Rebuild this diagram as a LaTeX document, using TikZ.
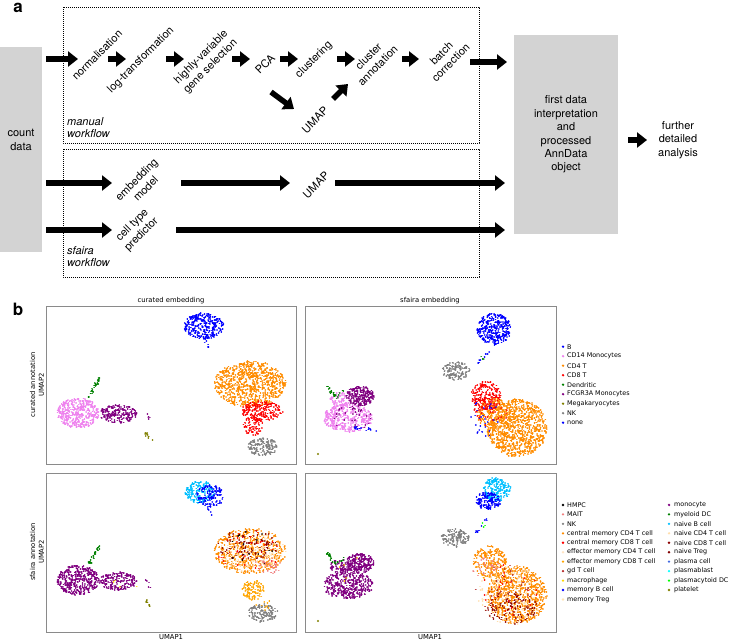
\documentclass[tikz,border=0pt]{standalone}
\usepackage{fontspec}
\setmainfont{TeX Gyre Heros}
\newfontfamily\plotfont{DejaVu Sans}
\usepackage{tikz}
\usetikzlibrary{arrows.meta,positioning}

\definecolor{boxgrey}{HTML}{D3D3D3}
\definecolor{framegrey}{HTML}{8A8A8A}
% curated annotation
\definecolor{cB}{HTML}{0000FF}
\definecolor{cMonoA}{HTML}{EE82EE}
\definecolor{cCDf}{HTML}{FF8C00}
\definecolor{cCDe}{HTML}{FF0000}
\definecolor{cDend}{HTML}{008000}
\definecolor{cMonoB}{HTML}{800080}
\definecolor{cMega}{HTML}{808000}
\definecolor{cNK}{HTML}{808080}
\definecolor{cNone}{HTML}{0000FF}
% sfaira annotation
\definecolor{sHMPC}{HTML}{000000}
\definecolor{sMAIT}{HTML}{F08080}
\definecolor{sNK}{HTML}{808080}
\definecolor{sCmFour}{HTML}{FF8C00}
\definecolor{sCmEight}{HTML}{FF0000}
\definecolor{sEmFour}{HTML}{FFE4C4}
\definecolor{sEmEight}{HTML}{FFA500}
\definecolor{sGd}{HTML}{B22222}
\definecolor{sMac}{HTML}{FFD700}
\definecolor{sMemB}{HTML}{0000FF}
\definecolor{sMemT}{HTML}{FFE4B5}
\definecolor{sMono}{HTML}{800080}
\definecolor{sMyDC}{HTML}{008000}
\definecolor{sNaiB}{HTML}{00BFFF}
\definecolor{sNaiFour}{HTML}{FFDEAD}
\definecolor{sNaiEight}{HTML}{8B0000}
\definecolor{sNaiT}{HTML}{800000}
\definecolor{sPlC}{HTML}{4169E1}
\definecolor{sPlB}{HTML}{00FFFF}
\definecolor{sPDC}{HTML}{00FF00}
\definecolor{sPlat}{HTML}{808000}

% point clouds of the umap panels (one path per cloud)
\newcommand{\cloud}[6]{% centre x, centre y, radius x, radius y, points, colour
  \draw[umapdot,#6] \foreach \i [evaluate=\i as \cldr using sqrt(rnd),
      evaluate=\i as \clda using 360*rnd] in {1,...,#5}
    {({#1+#3*\cldr*cos(\clda)},{#2+#4*\cldr*sin(\clda)}) -- ++(0.05,0)};}
\newcommand{\streak}[6]{% from x, from y, to x, to y, points, colour
  \draw[umapdot,#6] \foreach \i [evaluate=\i as \cldt using rnd] in {1,...,#5}
    {({#1+(#3-#1)*\cldt+3*(rnd-0.5)},{#2+(#4-#2)*\cldt+3*(rnd-0.5)}) -- ++(0.05,0)};}

\begin{document}
\begin{tikzpicture}[x=1pt,y=-1pt,
    bigarrow/.style={line width=5.5pt,-{Triangle[length=10pt,width=15pt]}},
    rotlabel/.style={rotate=45,align=center,inner sep=0pt,font=\fontsize{11}{13}\selectfont},
    plain/.style={align=center,inner sep=0pt,font=\fontsize{11}{13.4}\selectfont},
    wfbox/.style={dash pattern=on 0.9pt off 1.1pt,line width=0.9pt},
    greybox/.style={fill=boxgrey,draw=none},
    frame/.style={draw=framegrey,line width=0.9pt},
    umapdot/.style={line width=1.7pt,line cap=round},
    plottext/.style={inner sep=0pt,font=\plotfont\fontsize{6.8}{8}\selectfont},
    legtext/.style={inner sep=0pt,anchor=west,font=\plotfont\fontsize{6.4}{7.5}\selectfont}]
    \useasboundingbox (0,0) rectangle (729,640);
    \pgfmathsetseed{4711}

    % ---------------- a: workflows
    \node[font=\bfseries\fontsize{17}{17}\selectfont,inner sep=0pt] (lbla) at (18,8) {a};
    \draw[wfbox] (63,7) rectangle (479,143);
    \draw[wfbox] (63,149) rectangle (479,277);

    \node[greybox,minimum width=42,minimum height=205,inner sep=0pt] (cnt) at (21,149.5) {};
    \node[plain] (cntlbl) at (21,140) {count\\data};
    \node[greybox,plain,minimum width=104,minimum height=199] (ann) at (566,134.5)
        {first data\\interpretation\\and\\processed\\AnnData\\object};
    \node[plain] (fur) at (678,140) {further\\detailed\\analysis};

    % manual workflow
    \node[rotlabel] (norm) at (97,55) {normalisation};
    \node[rotlabel] (logt) at (141,60) {log-transformation};
    \node[rotlabel] (hvg) at (206,62) {highly-variable\\gene selection};
    \node[rotlabel] (pca) at (265,64) {PCA};
    \node[rotlabel] (clus) at (314,60) {clustering};
    \node[rotlabel] (umapm) at (315,120) {UMAP};
    \node[rotlabel] (cann) at (373,61) {cluster\\annotation};
    \node[rotlabel] (batch) at (446,58) {batch\\correction};
    \node[plain,align=left,anchor=north west,font=\itshape\fontsize{11}{12.5}\selectfont] (manual) at (67,117) {manual\\workflow};

    \foreach \xa/\xb in {46/78,108/126,166/184,232/250,280/298,337/355,402/419}
        \draw[bigarrow] (\xa,59) -- (\xb,59);
    \draw[bigarrow] (470,62) -- (507,62);
    \draw[bigarrow] (271,92) -- (294,109);
    \draw[bigarrow] (333,99) -- (348,84);

    % sfaira workflow
    \node[rotlabel] (emb) at (141,184) {embedding\\model};
    \node[rotlabel] (umaps) at (316,185) {UMAP};
    \node[rotlabel] (pred) at (137,230) {cell type\\predictor};
    \node[plain,align=left,anchor=north west,font=\itshape\fontsize{11}{12.5}\selectfont] (sfaira) at (67,246) {sfaira\\workflow};

    \foreach \xa/\xb in {46/112,181/290,335/505}
        \draw[bigarrow] (\xa,183) -- (\xb,183);
    \foreach \xa/\xb in {46/112,176/505}
        \draw[bigarrow] (\xa,230) -- (\xb,230);
    \draw[bigarrow] ([xshift=10pt]ann.east |- fur.west) -- ([xshift=-11pt]fur.west);

    % ---------------- b: umap panels
    \node[font=\bfseries\fontsize{17}{17}\selectfont,inner sep=0pt] (lblb) at (18,309) {b};

    % curated embedding, curated annotation
    \cloud{204}{326}{20}{13}{290}{cB}
    \streak{204}{336}{208}{348}{6}{cB}
    \cloud{250}{384}{36}{23}{820}{cCDf}
    \cloud{262}{411}{21}{10}{210}{cCDe}
    \cloud{253}{426}{10}{10}{90}{cCDe}
    \cloud{263}{447}{15}{9}{160}{cNK}
    \cloud{78}{413}{21}{15}{420}{cMonoA}
    \cloud{118}{414}{19}{9}{200}{cMonoB}
    \streak{145}{413}{150}{420}{5}{cMonoB}
    \streak{89}{397}{100}{378}{28}{cDend}
    \streak{145}{433}{152}{441}{10}{cMega}

    % sfaira embedding, curated annotation
    \cloud{494}{329}{17}{16}{330}{cB}
    \streak{488}{352}{476}{366}{12}{cB}
    \streak{480}{356}{484}{359}{3}{cDend}
    \cloud{456}{371}{14}{9}{140}{cNK}
    \cloud{486}{396}{15}{15}{230}{cCDe}
    \cloud{517}{428}{30}{29}{950}{cCDf}
    \cloud{494}{414}{17}{16}{200}{cCDf}
    \cloud{490}{412}{18}{16}{50}{cCDe}
    \cloud{485}{418}{14}{20}{30}{cB}
    \cloud{348}{418}{25}{14}{380}{cMonoA}
    \cloud{340}{400}{10}{8}{80}{cMonoA}
    \cloud{360}{396}{14}{10}{240}{cMonoB}
    \cloud{352}{418}{20}{12}{35}{cMonoB}
    \streak{327}{385}{336}{398}{22}{cDend}
    \streak{336}{397}{344}{391}{6}{cDend}
    \streak{355}{428}{378}{430}{14}{cB}
    \fill[cMega] (318,454) circle[radius=1.1pt];

    % curated embedding, sfaira annotation
    \cloud{200}{492}{15}{11}{190}{sNaiB}
    \cloud{210}{496}{14}{11}{140}{sMemB}
    \streak{204}{503}{211}{515}{6}{sMemB}
    \cloud{250}{551}{36}{23}{570}{sCmFour}
    \cloud{252}{552}{34}{20}{150}{sNaiFour}
    \cloud{248}{545}{32}{15}{100}{sNaiEight}
    \cloud{250}{551}{34}{21}{35}{sCmEight}
    \cloud{255}{548}{30}{18}{15}{sHMPC}
    \cloud{268}{566}{14}{8}{40}{sMAIT}
    \cloud{253}{590}{11}{10}{110}{sEmEight}
    \cloud{263}{613}{15}{9}{140}{sNK}
    \cloud{262}{605}{10}{8}{10}{sEmEight}
    \cloud{78}{580}{21}{15}{420}{sMono}
    \cloud{118}{581}{19}{9}{200}{sMono}
    \streak{145}{580}{150}{587}{5}{sMono}
    \streak{89}{564}{100}{545}{28}{sMyDC}
    \streak{145}{600}{152}{608}{10}{sPlat}
    \cloud{130}{580}{22}{8}{4}{sMac}

    % sfaira embedding, sfaira annotation
    \cloud{497}{489}{14}{12}{210}{sNaiB}
    \cloud{488}{501}{13}{9}{140}{sMemB}
    \streak{488}{519}{476}{533}{12}{sMemB}
    \streak{482}{523}{485}{526}{3}{sPDC}
    \cloud{455}{538}{14}{9}{140}{sNK}
    \cloud{490}{562}{17}{16}{220}{sCmFour}
    \cloud{517}{595}{30}{29}{800}{sCmFour}
    \cloud{510}{595}{32}{30}{160}{sNaiFour}
    \cloud{512}{608}{27}{16}{110}{sNaiEight}
    \cloud{505}{590}{30}{25}{35}{sGd}
    \cloud{485}{568}{14}{12}{30}{sMAIT}
    \cloud{510}{590}{30}{28}{25}{sCmEight}
    \cloud{490}{570}{15}{14}{12}{sEmEight}
    \cloud{348}{585}{25}{14}{380}{sMono}
    \cloud{340}{567}{10}{8}{80}{sMono}
    \cloud{360}{563}{14}{10}{240}{sMono}
    \streak{327}{552}{336}{565}{22}{sMyDC}
    \streak{336}{564}{344}{558}{6}{sMyDC}
    \cloud{350}{575}{25}{20}{5}{sMac}
    \fill[sPlat] (318,621) circle[radius=1.1pt];

    % frames and axis texts
    \draw[frame] (46,306) rectangle (296,464);
    \draw[frame] (305,306) rectangle (556,464);
    \draw[frame] (46,473) rectangle (296,632);
    \draw[frame] (305,473) rectangle (556,632);
    \node[plottext] (tcur) at (171,301) {curated embedding};
    \node[plottext] (tsfa) at (430,301) {sfaira embedding};
    \node[plottext,rotate=90,align=center,font=\plotfont\fontsize{6.8}{8.6}\selectfont] (ycur) at (37,385) {curated annotation\\UMAP2};
    \node[plottext,rotate=90,align=center,font=\plotfont\fontsize{6.8}{8.6}\selectfont] (ysfa) at (37,552) {sfaira annotation\\UMAP2};
    \node[plottext] (xcur) at (171,637) {UMAP1};
    \node[plottext] (xsfa) at (430,637) {UMAP1};

    % legends
    \foreach \nm/\cl [count=\j] in {B/cB, CD14 Monocytes/cMonoA, CD4 T/cCDf, CD8 T/cCDe,
        Dendritic/cDend, FCGR3A Monocytes/cMonoB, Megakaryocytes/cMega, NK/cNK, none/cNone}{
        \fill[\cl] (563,{337.2+9.5*\j}) circle[radius=1.3pt];
        \node[legtext] (lega\j) at (567,{337.2+9.5*\j}) {\nm};
    }
    \foreach \nm/\cl [count=\j] in {HMPC/sHMPC, MAIT/sMAIT, NK/sNK,
        central memory CD4 T cell/sCmFour, central memory CD8 T cell/sCmEight,
        effector memory CD4 T cell/sEmFour, effector memory CD8 T cell/sEmEight,
        gd T cell/sGd, macrophage/sMac, memory B cell/sMemB, memory Treg/sMemT}{
        \fill[\cl] (563,{495.5+9.45*\j}) circle[radius=1.3pt];
        \node[legtext] (legb\j) at (567,{495.5+9.45*\j}) {\nm};
    }
    \foreach \nm/\cl [count=\j] in {monocyte/sMono, myeloid DC/sMyDC, naive B cell/sNaiB,
        naive CD4 T cell/sNaiFour, naive CD8 T cell/sNaiEight, naive Treg/sNaiT,
        plasma cell/sPlC, plasmablast/sPlB, plasmacytoid DC/sPDC, platelet/sPlat}{
        \fill[\cl] (669,{495.5+9.45*\j}) circle[radius=1.3pt];
        \node[legtext] (legc\j) at (674,{495.5+9.45*\j}) {\nm};
    }
\end{tikzpicture}
\end{document}
